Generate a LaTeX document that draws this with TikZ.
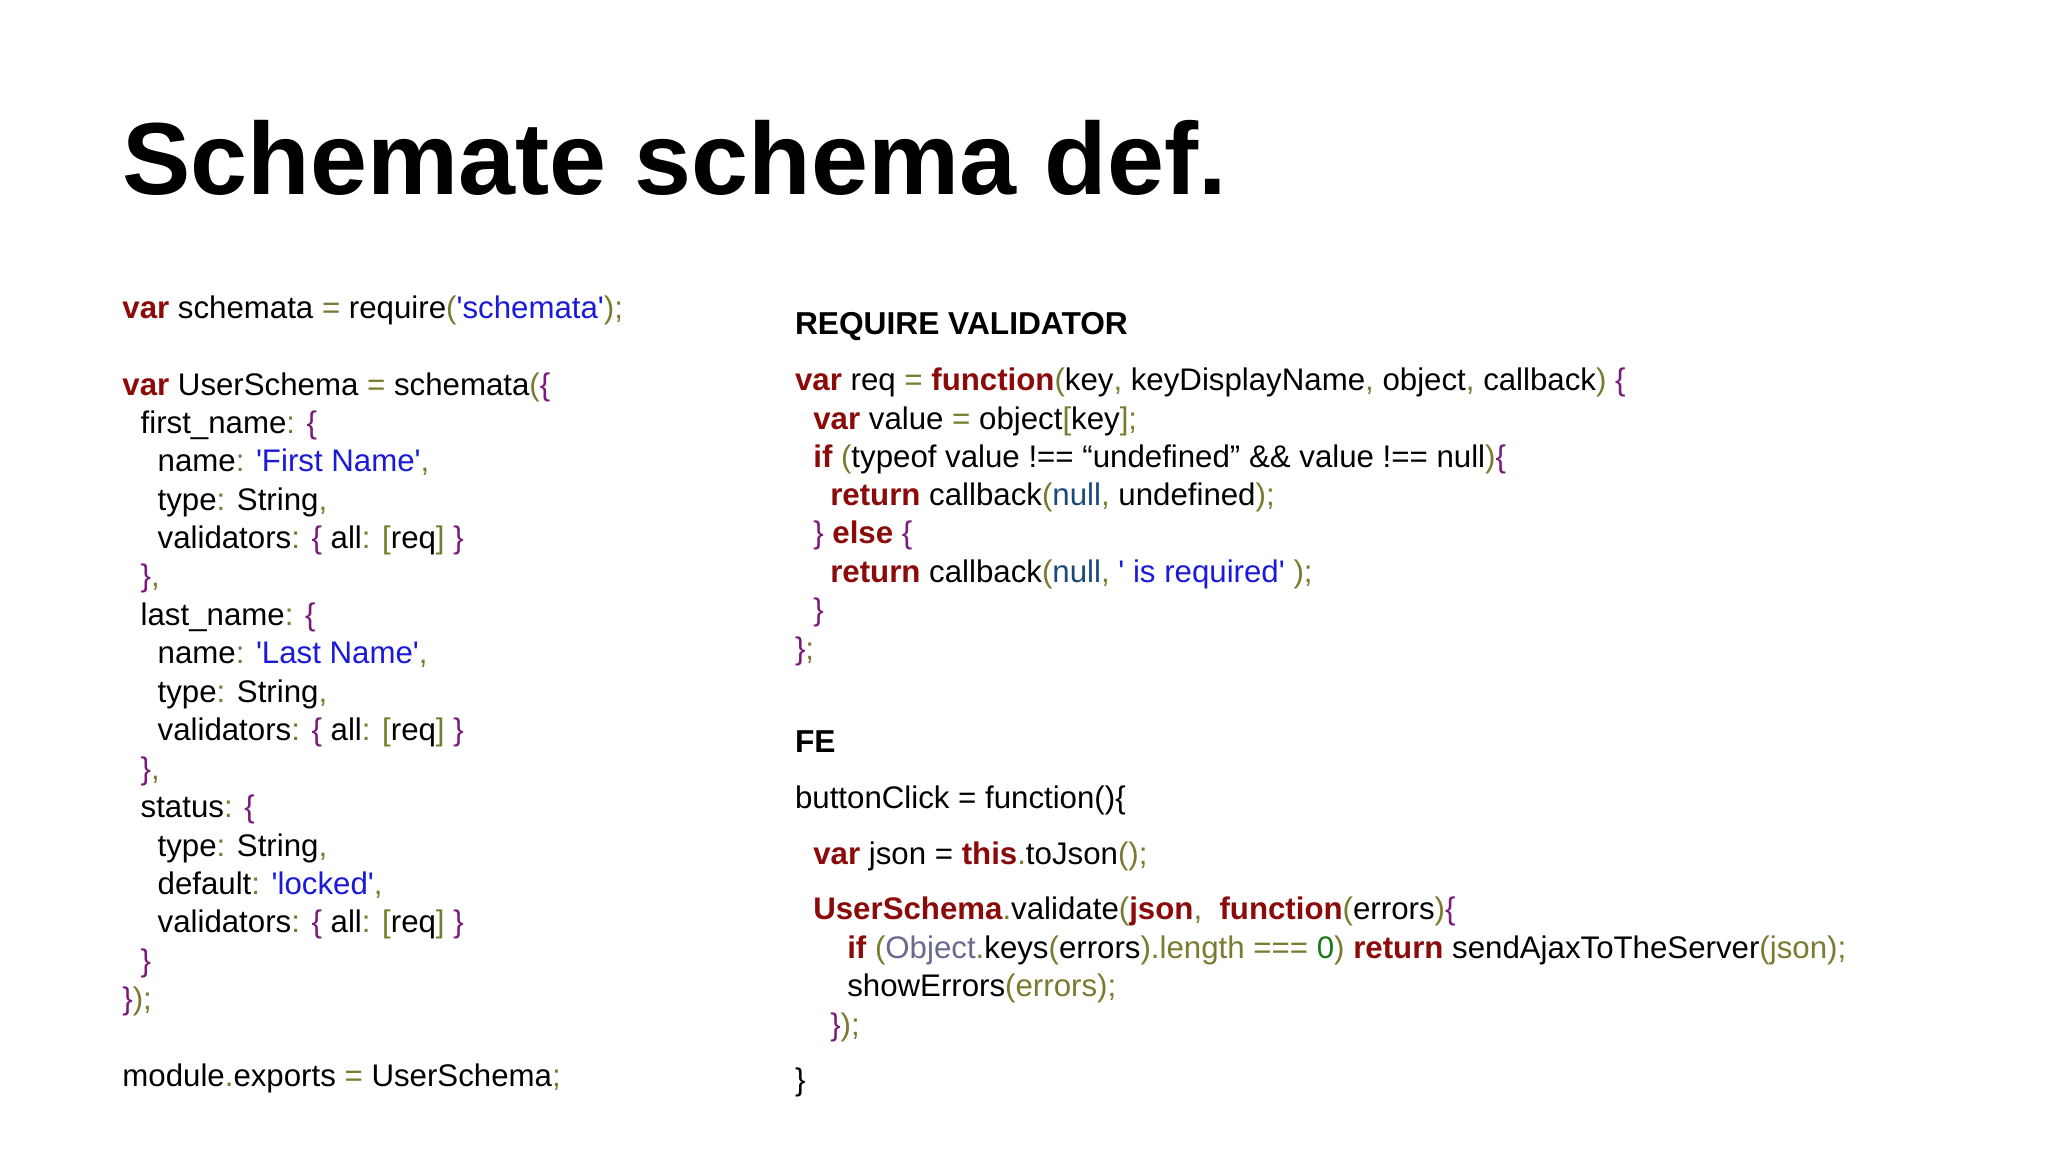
\documentclass[tikz,border=0pt]{standalone}
\usepackage{fontspec}
\setmainfont{Liberation Sans}
\definecolor{kwc}{HTML}{8B0A0A}
\definecolor{pnc}{HTML}{7A7A30}
\definecolor{brc}{HTML}{7A1A7A}
\definecolor{stc}{HTML}{1A1AD8}
\definecolor{nlc}{HTML}{1A4A7A}
\definecolor{obc}{HTML}{6A6A90}
\definecolor{zrc}{HTML}{1A7A1A}
\newcommand{\kw}[1]{\textbf{\textcolor{kwc}{#1}}}
\newcommand{\pn}[1]{\textcolor{pnc}{#1}}
\newcommand{\bc}[1]{\textcolor{brc}{#1}}
\newcommand{\st}[1]{\textcolor{stc}{\textquotesingle#1\textquotesingle}}
\newcommand{\nl}[1]{\textcolor{nlc}{#1}}
\begin{document}
\begin{tikzpicture}[x=0.01cm,y=-0.01cm,
  code/.style={anchor=base west,inner sep=0pt,font=\fontsize{6.8}{8}\selectfont},
  head/.style={anchor=base west,inner sep=0pt,font=\fontsize{6.9}{8}\selectfont\bfseries}]
\useasboundingbox[fill=white] (0,0) rectangle (1568,882);
\node[anchor=base west,inner sep=0pt,font=\fontsize{22.3}{26}\selectfont\bfseries] (title) at (93,149) {Schemate schema def.};
% left column
\node[code] (l1) at (93,244) {\kw{var} schemata \pn{=} require\pn{(}\st{schemata}\pn{);}};
\node[code] (l2) at (93,303) {\kw{var} UserSchema \pn{=} schemata\pn{(}\bc{\{}};
\node[code] (l3) at (107,332) {first\_name\pn{:} \bc{\{}};
\node[code] (l4) at (120,361) {name\pn{:} \st{First Name}\pn{,}};
\node[code] (l5) at (120,391) {type\pn{:} String\pn{,}};
\node[code] (l6) at (120,420) {validators\pn{:} \bc{\{} all\pn{:} \pn{[}req\pn{]} \bc{\}}};
\node[code] (l7) at (107,449) {\bc{\}}\pn{,}};
\node[code] (l8) at (107,479) {last\_name\pn{:} \bc{\{}};
\node[code] (l9) at (120,508) {name\pn{:} \st{Last Name}\pn{,}};
\node[code] (l10) at (120,538) {type\pn{:} String\pn{,}};
\node[code] (l11) at (120,567) {validators\pn{:} \bc{\{} all\pn{:} \pn{[}req\pn{]} \bc{\}}};
\node[code] (l12) at (107,597) {\bc{\}}\pn{,}};
\node[code] (l13) at (107,626) {status\pn{:} \bc{\{}};
\node[code] (l14) at (120,656) {type\pn{:} String\pn{,}};
\node[code] (l15) at (120,685) {default\pn{:} \st{locked}\pn{,}};
\node[code] (l16) at (120,714) {validators\pn{:} \bc{\{} all\pn{:} \pn{[}req\pn{]} \bc{\}}};
\node[code] (l17) at (107,744) {\bc{\}}};
\node[code] (l18) at (93,773) {\bc{\}}\pn{);}};
\node[code] (l19) at (93,832) {module\pn{.}exports \pn{=} UserSchema\pn{;}};
% right column
\node[head] (h1) at (608,256) {REQUIRE VALIDATOR};
\node[code] (r1) at (608,299) {\kw{var} req \pn{=} \kw{function}\pn{(}key\pn{,} keyDisplayName\pn{,} object\pn{,} callback\pn{)} \bc{\{}};
\node[code] (r2) at (622,329) {\kw{var} value \pn{=} object\pn{[}key\pn{];}};
\node[code] (r3) at (622,358) {\kw{if} \pn{(}typeof value !== “undefined” \&\& value !== null\pn{)}\bc{\{}};
\node[code] (r4) at (635,387) {\kw{return} callback\pn{(}\nl{null}\pn{,} undefined\pn{);}};
\node[code] (r5) at (622,416) {\bc{\}} \kw{else} \bc{\{}};
\node[code] (r6) at (635,446) {\kw{return} callback\pn{(}\nl{null}\pn{,} \st{ is required} \pn{);}};
\node[code] (r7) at (622,475) {\bc{\}}};
\node[code] (r8) at (608,505) {\bc{\}}\pn{;}};
\node[head] (h2) at (608,576) {FE};
\node[code] (f1) at (608,619) {buttonClick = function()\{};
\node[code] (f2) at (622,662) {\kw{var} json = \kw{this}\pn{.}toJson\pn{();}};
\node[code] (f3) at (622,704) {\kw{UserSchema}\pn{.}validate\pn{(}\kw{json}\pn{,}\ \ \kw{function}\pn{(}errors\pn{)}\bc{\{}};
\node[code] (f4) at (648,734) {\kw{if} \pn{(}\textcolor{obc}{Object}\pn{.}keys\pn{(}errors\pn{).length ===} \textcolor{zrc}{0}\pn{)} \kw{return} sendAjaxToTheServer\pn{(json);}};
\node[code] (f5) at (648,763) {showErrors\pn{(errors);}};
\node[code] (f6) at (635,793) {\bc{\}}\pn{);}};
\node[code] (f7) at (608,835) {\}};
\end{tikzpicture}
\end{document}
